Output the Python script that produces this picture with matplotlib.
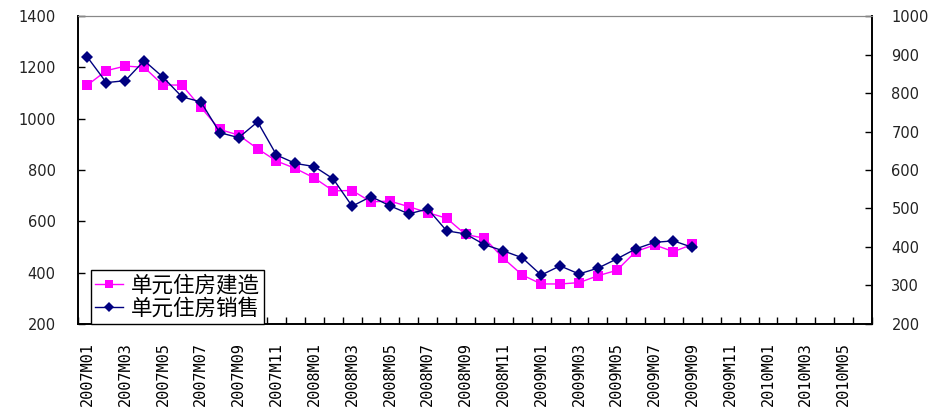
import matplotlib.pyplot as plt
from matplotlib.ticker import FixedLocator, NullFormatter

plt.rcParams['font.family'] = ['Noto Sans CJK SC', 'DejaVu Sans']

# monthly categories on the x axis, 2007M01 .. 2010M06
months = [f"{y}M{m:02d}" for y in range(2007, 2011) for m in range(1, 13)][:42]

# single-family housing starts (left axis), thousands
starts = [1131, 1187, 1205, 1200, 1131, 1131, 1044, 958, 936, 883,
          835, 806, 769, 719, 720, 676, 679, 657, 634, 612,
          549, 534, 456, 391, 356, 356, 361, 388, 409, 482,
          508, 482, 510]

# single-family new home sales (right axis), thousands
sales = [893, 827, 832, 884, 841, 790, 777, 697, 684, 725,
         639, 617, 609, 577, 506, 531, 507, 486, 499, 442,
         434, 406, 390, 372, 327, 351, 330, 345, 369, 395,
         412, 416, 399]

labels = ["单元住房建造", "单元住房销售"]


def main():
    fig = plt.figure(figsize=(9.43, 4.18), dpi=100)
    ax = fig.add_axes([0.0827, 0.2249, 0.8420, 0.7368])
    ax2 = ax.twinx()

    x = range(len(starts))
    l1, = ax.plot(x, starts, color="#FF00FF", lw=1.0, marker="s",
                  markersize=7, markeredgewidth=0, label=labels[0])
    l2, = ax2.plot(x, sales, color="#000080", lw=1.0, marker="D",
                   markersize=6, markeredgewidth=0, label=labels[1])

    ax.set_xlim(-0.5, len(months) - 0.5)
    ax.set_ylim(200, 1400)
    ax2.set_ylim(200, 1000)
    ax.set_yticks(range(200, 1401, 200))
    ax2.set_yticks(range(200, 1001, 100))

    # labels every other month, tick marks between categories
    ax.xaxis.set_major_locator(FixedLocator(range(0, len(months), 2)))
    ax.set_xticklabels(months[::2], rotation=90, family="DejaVu Sans Mono",
                       fontsize=11)
    ax.xaxis.set_minor_locator(FixedLocator([i - 0.5 for i in range(len(months) + 1)]))
    ax.xaxis.set_minor_formatter(NullFormatter())
    ax.tick_params(axis="x", which="major", length=0, pad=13)
    ax.tick_params(axis="x", which="minor", direction="in", length=5, width=1)

    ax.tick_params(axis="y", direction="in", length=5, width=1, pad=16,
                   labelsize=10.5)
    ax2.tick_params(axis="y", direction="in", length=5, width=1, pad=14,
                    labelsize=10.5)
    for a in (ax, ax2):
        for lab in a.get_yticklabels():
            lab.set_family("DejaVu Sans")
            lab.set_color("#222222")
        for s in ("left", "right", "bottom"):
            a.spines[s].set_linewidth(1.2)
        a.spines["top"].set_color("#888888")
        a.spines["top"].set_linewidth(0.8)

    leg = ax2.legend([l1, l2], labels, loc="lower left",
                     bbox_to_anchor=(0.016, 0.0), borderaxespad=0,
                     fontsize=15.5, handlelength=1.3, handletextpad=0.35,
                     labelspacing=0.05, borderpad=0.2, fancybox=False,
                     framealpha=1, markerscale=0.8)
    leg.get_frame().set_edgecolor("black")
    leg.get_frame().set_linewidth(1.0)

    fig.savefig("out.png", dpi=100)


if __name__ == "__main__":
    main()
